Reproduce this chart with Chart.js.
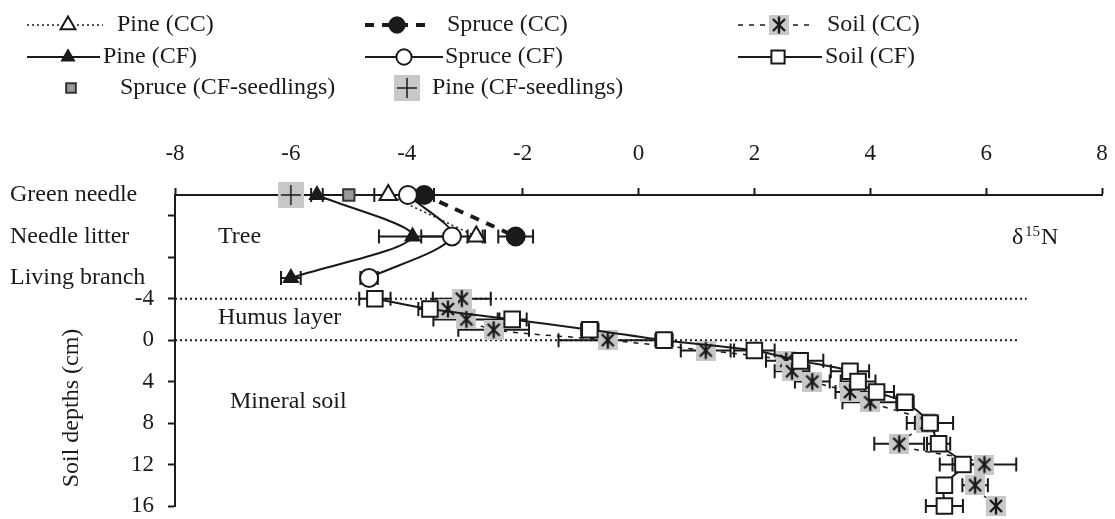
<!DOCTYPE html>
<html>
<head>
<meta charset="utf-8">
<script src="https://cdn.jsdelivr.net/npm/chart.js"></script>
<style>
  body { margin: 0; background: #fff; }
</style>
</head>
<body>
<canvas id="chart" width="1115" height="519"></canvas>
<script>
// tree compartments are plotted above the soil profile
var treeParts = ['Green needle', 'Needle litter', 'Living branch'];
var treePos = [-14, -10, -6];
var soilDepth = [-4, -3, -2, -1, 0, 1, 2, 3, 4, 5, 6, 8, 10, 12, 14, 16];
var depthTicks = [-12, -8, -4, 0, 4, 8, 12, 16];
var layerBounds = [-4, 0];
var layerEnds = [6.7, 6.55];

// d15N values (x) and standard errors
var pineCC = [-4.32, -2.8];
var pineCCErr = [0.24, 0.15];
var spruceCC = [-3.7, -2.12];
var spruceCCErr = [0.17, 0.3];
var pineCF = [-5.55, -3.9, -6.0];
var pineCFErr = [0.1, 0.58, 0.17];
var spruceCF = [-3.98, -3.22, -4.65];
var spruceCFErr = [0.1, 0.53, 0.15];
var spruceSeed = [-5.0];
var pineSeed = [-6.0];
var soilCC = [-3.05, -3.29, -2.97, -2.5, -0.53, 1.16, 2.55, 2.65, 3.0, 3.65, 4.0, 4.97, 4.5, 5.97, 5.81, 6.17];
var soilCCErr = [0.5, 0.2, 0.57, 0.61, 0.85, 0.43, 0.35, 0.3, 0.3, 0.25, 0.48, 0.2, 0.43, 0.55, 0.22, 0.14];
var soilCF = [-4.55, -3.6, -2.18, -0.84, 0.44, 2.0, 2.79, 3.65, 3.79, 4.11, 4.6, 5.03, 5.18, 5.6, 5.28, 5.28];
var soilCFErr = [0.27, 0.2, 0.25, 0.15, 0.15, 0.35, 0.4, 0.33, 0.3, 0.3, 0.15, 0.4, 0.2, 0.4, 0.1, 0.32];

var FONT = 'Liberation Serif, Times New Roman, serif';
var INK = '#1a1a1a';
var GREY = '#c8c8c8';

function pts(xs, ys) {
  return xs.map(function (v, i) { return { x: v, y: ys[i] }; });
}

function boxIcon(size, draw) {
  var c = document.createElement('canvas');
  c.width = size; c.height = size;
  var g = c.getContext('2d');
  g.fillStyle = GREY;
  g.fillRect(0, 0, size, size);
  g.strokeStyle = INK;
  draw(g, size / 2);
  return c;
}

var starIcon = boxIcon(20, function (g, m) {
  g.lineWidth = 2.4;
  [90, 45, -45].forEach(function (a) {
    var r = a * Math.PI / 180, dx = Math.cos(r) * 8.5, dy = Math.sin(r) * 8.5;
    g.beginPath(); g.moveTo(m - dx, m - dy); g.lineTo(m + dx, m + dy); g.stroke();
  });
});
var plusIcon = boxIcon(26, function (g, m) {
  g.lineWidth = 1.5;
  g.beginPath();
  g.moveTo(m, m - 10); g.lineTo(m, m + 10);
  g.moveTo(m - 10, m); g.lineTo(m + 10, m);
  g.stroke();
});

function series(label, xs, ys, err, o) {
  var d = {
    label: label,
    data: pts(xs, ys),
    err: err,
    clip: false,
    borderColor: INK,
    borderWidth: 2,
    borderDash: [],
    showLine: true,
    tension: 0.3,
    pointStyle: 'circle',
    pointRadius: 9,
    pointBorderWidth: 2,
    pointBorderColor: INK,
    pointBackgroundColor: '#fff'
  };
  for (var k in o) d[k] = o[k];
  return d;
}

var datasets = [
  series('Pine (CC)', pineCC, treePos, pineCCErr, { borderWidth: 1.5, borderDash: [2, 3], pointStyle: 'triangle', pointRadius: 10, order: 4 }),
  series('Spruce (CC)', spruceCC, treePos, spruceCCErr, { borderWidth: 4, borderDash: [9, 8], pointBackgroundColor: INK, order: 5 }),
  series('Soil (CC)', soilCC, soilDepth, soilCCErr, { borderWidth: 1.5, borderDash: [5, 6], pointStyle: starIcon, order: 7 }),
  series('Pine (CF)', pineCF, treePos, pineCFErr, { pointStyle: 'triangle', pointRadius: 8, pointBackgroundColor: INK, order: 2 }),
  series('Spruce (CF)', spruceCF, treePos, spruceCFErr, { order: 3 }),
  series('Soil (CF)', soilCF, soilDepth, soilCFErr, { pointStyle: 'rect', pointRadius: 11, order: 6 }),
  series('Spruce (CF-seedlings)', spruceSeed, treePos, null, { showLine: false, pointStyle: 'rect', pointRadius: 8, pointBackgroundColor: '#9a9a9a', pointBorderColor: '#333', order: 1 }),
  series('Pine (CF-seedlings)', pineSeed, treePos, null, { showLine: false, pointStyle: plusIcon, order: 1 })
];

// legend layout: [dataset index, line from, line to, marker x, text x, row y]
var legendItems = [
  [0, 27, 103, 68, 117, 25],
  [1, 365, 432, 397, 447, 25],
  [2, 738, 815, 779, 827, 25],
  [3, 27, 100, 68, 103, 57],
  [4, 365, 443, 404, 445, 57],
  [5, 738, 822, 778, 825, 57],
  [6, null, null, 71, 120, 88],
  [7, null, null, 407, 432, 88]
];

var errorBars = {
  id: 'errorBars',
  beforeDatasetsDraw: function (chart) {
    var ctx = chart.ctx, xs = chart.scales.x, ys = chart.scales.y;
    ctx.save();
    ctx.strokeStyle = INK;
    ctx.lineWidth = 2;
    chart.data.datasets.forEach(function (ds) {
      if (!ds.err) return;
      ds.data.forEach(function (p, i) {
        var x1 = xs.getPixelForValue(p.x - ds.err[i]);
        var x2 = xs.getPixelForValue(p.x + ds.err[i]);
        var y = ys.getPixelForValue(p.y);
        ctx.beginPath();
        ctx.moveTo(x1, y); ctx.lineTo(x2, y);
        ctx.moveTo(x1, y - 7); ctx.lineTo(x1, y + 7);
        ctx.moveTo(x2, y - 7); ctx.lineTo(x2, y + 7);
        ctx.stroke();
      });
    });
    ctx.restore();
  }
};

var extras = {
  id: 'extras',
  beforeDatasetsDraw: function (chart) {
    var ctx = chart.ctx, xs = chart.scales.x, ys = chart.scales.y;
    ctx.save();
    ctx.strokeStyle = INK;
    ctx.lineWidth = 2;
    ctx.setLineDash([2, 3]);
    layerBounds.forEach(function (d, i) {
      var y = ys.getPixelForValue(d);
      ctx.beginPath();
      ctx.moveTo(xs.left, y);
      ctx.lineTo(xs.getPixelForValue(layerEnds[i]), y);
      ctx.stroke();
    });
    ctx.restore();
  },
  afterDraw: function (chart) {
    var ctx = chart.ctx, ys = chart.scales.y;
    ctx.save();
    ctx.fillStyle = INK;
    ctx.textBaseline = 'middle';
    ctx.textAlign = 'left';
    ctx.font = '24px ' + FONT;

    // tree compartment labels on the depth axis
    treeParts.forEach(function (t, i) {
      ctx.fillText(t, 10, ys.getPixelForValue(treePos[i]));
    });

    ctx.fillText('Tree', 218, 237);
    ctx.fillText('Humus layer', 218, 318);
    ctx.fillText('Mineral soil', 230, 402);

    ctx.fillText('\u03b4', 1012, 238);
    ctx.font = '15px ' + FONT;
    ctx.fillText('15', 1025, 232);
    ctx.font = '24px ' + FONT;
    ctx.fillText('N', 1041, 238);

    // axis title
    ctx.save();
    ctx.translate(72, 408);
    ctx.rotate(-Math.PI / 2);
    ctx.textAlign = 'center';
    ctx.fillText('Soil depths (cm)', 0, 0);
    ctx.restore();

    // legend
    legendItems.forEach(function (it) {
      var ds = chart.data.datasets[it[0]];
      var y = it[5];
      if (it[1] !== null) {
        ctx.save();
        ctx.strokeStyle = ds.borderColor;
        ctx.lineWidth = ds.borderWidth;
        ctx.setLineDash(ds.borderDash);
        ctx.beginPath();
        ctx.moveTo(it[1], y); ctx.lineTo(it[2], y);
        ctx.stroke();
        ctx.restore();
      }
      ctx.save();
      ctx.setLineDash([]);
      ctx.fillStyle = ds.pointBackgroundColor;
      ctx.strokeStyle = ds.pointBorderColor;
      ctx.lineWidth = ds.pointBorderWidth;
      Chart.helpers.drawPoint(ctx, {
        pointStyle: ds.pointStyle,
        radius: ds.pointRadius * 0.85,
        rotation: 0,
        borderWidth: ds.pointBorderWidth
      }, it[3], y);
      ctx.restore();
      ctx.fillStyle = INK;
      ctx.fillText(ds.label, it[4], y);
    });
    ctx.restore();
  }
};

var ctx = document.getElementById('chart').getContext('2d');
var myChart = new Chart(ctx, {
  type: 'line',
  data: { datasets: datasets },
  plugins: [errorBars, extras],
  options: {
    responsive: false,
    animation: false,
    devicePixelRatio: 1,
    layout: { padding: { top: 135, left: 0, right: 9, bottom: 11 } },
    plugins: {
      legend: { display: false },
      tooltip: { enabled: false }
    },
    scales: {
      x: {
        type: 'linear',
        position: 'top',
        min: -8,
        max: 8,
        afterFit: function (s) {
          s.height = 60;
          s.paddingLeft = 0; s.paddingRight = 0;
        },
        ticks: {
          stepSize: 2,
          padding: 20,
          color: INK,
          font: { family: FONT, size: 23 }
        },
        grid: { drawOnChartArea: false, drawTicks: true, tickLength: 7, tickWidth: 2, tickColor: INK },
        border: { display: true, color: INK, width: 2 }
      },
      y: {
        type: 'linear',
        reverse: true,
        min: -14,
        max: 16,
        afterFit: function (s) {
          s.width = 175;
          s.paddingTop = 0; s.paddingBottom = 0;
        },
        afterBuildTicks: function (s) {
          s.ticks = depthTicks.map(function (v) { return { value: v }; });
        },
        ticks: {
          padding: 14,
          color: INK,
          font: { family: FONT, size: 23 },
          callback: function (v) { return v >= -4 ? String(v) : ''; }
        },
        grid: { drawOnChartArea: false, drawTicks: true, tickLength: 7, tickWidth: 2, tickColor: INK },
        border: { display: true, color: INK, width: 2 }
      }
    }
  }
});
</script>
</body>
</html>
